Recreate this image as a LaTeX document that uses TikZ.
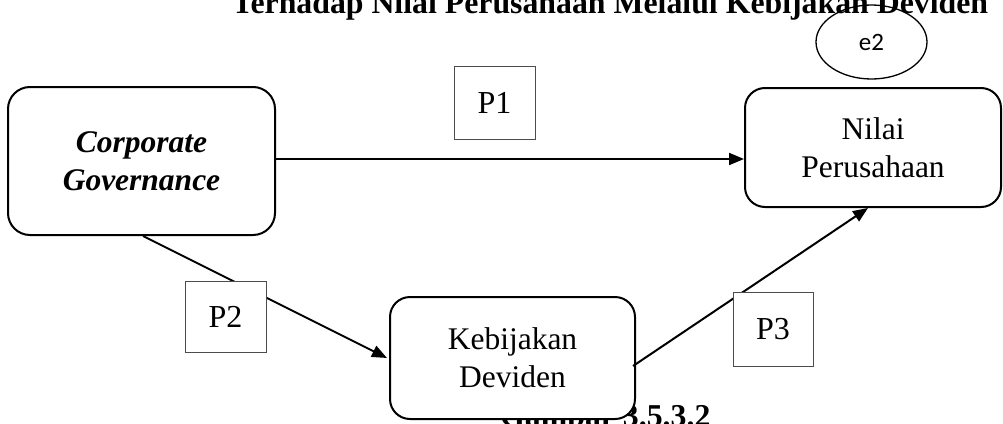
\documentclass[tikz,border=0pt]{standalone}
\usepackage{fontspec}
\setmainfont{Liberation Serif}
\newfontfamily\calib{Carlito}
\usetikzlibrary{arrows.meta,shapes.geometric}
\tikzset{
  mainbox/.style={draw=black, line width=2pt, rounded corners=22pt, fill=white, align=center, inner sep=0pt, font=\fontsize{31.5}{38}\selectfont},
  pbox/.style={draw=black!70, line width=0.9pt, fill=white, inner sep=0pt, font=\fontsize{32}{38}\selectfont},
  arr/.style={line width=2pt, -{Triangle[length=15pt,width=12pt]}},
  heading/.style={inner sep=0pt, font=\fontsize{31.8}{38}\selectfont\bfseries}
}
\begin{document}
\begin{tikzpicture}[x=1pt,y=-1pt]
\useasboundingbox (0,0) rectangle (1003,423);
% title and caption
\node[heading, anchor=base west] (title) at (232,13) {Terhadap Nilai Perusahaan Melalui Kebijakan Deviden};
\node[heading, anchor=base west] (caption) at (500,426) {Gambar 3.5.3.2};
% main boxes
\node[mainbox, minimum width=267pt, minimum height=148pt] (CG) at (141.5,161) {\textbf{\textit{Corporate}}\\\textbf{\textit{Governance}}};
\node[mainbox, rounded corners=20pt, minimum width=256pt, minimum height=119pt] (NP) at (873,147.5) {Nilai\\Perusahaan};
\node[mainbox, rounded corners=20pt, minimum width=245pt, minimum height=122pt] (KD) at (512.5,358) {Kebijakan\\Deviden};
% error term
\node[draw=black, line width=1.3pt, ellipse, minimum width=111pt, minimum height=74pt, inner sep=0pt, font=\calib\fontsize{25}{29}\selectfont] (e2) at (871.5,42) {e2};
% connectors
\draw[arr] ([yshift=2pt]CG.east) -- ([yshift=2pt]CG.east -| NP.west);
\draw[arr] ([xshift=1.5pt]CG.south) -- ([xshift=-2pt]KD.west);
\draw[arr] ([xshift=-3pt,yshift=-8pt]KD.east) -- ([xshift=-5pt]NP.south);
% path labels
\node[pbox, minimum width=81pt, minimum height=73pt] (P1) at (494.5,102.5) {P1};
\node[pbox, minimum width=81pt, minimum height=71pt] (P2) at (225.5,316.5) {P2};
\node[pbox, minimum width=80pt, minimum height=74pt] (P3) at (773,329) {P3};
\end{tikzpicture}
\end{document}
